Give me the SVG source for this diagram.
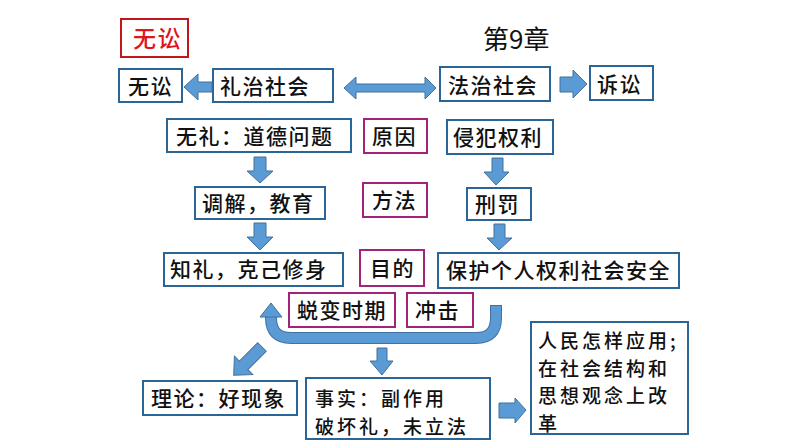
<svg xmlns="http://www.w3.org/2000/svg" width="794" height="447" viewBox="0 0 794 447">
<style>
.b{fill:#fff;stroke:#2B6596;stroke-width:2}
.m{fill:#fff;stroke:#A3237A;stroke-width:2}
.r{fill:#fff;stroke:#C0171C;stroke-width:2}
text{font-family:"Noto Sans CJK SC","Noto Sans",sans-serif;font-size:21px;font-weight:500;letter-spacing:1.5px;fill:#111}
.ml{font-size:19px;letter-spacing:3px}
.a{fill:#5B9BD5;stroke:#41719C;stroke-width:1}
</style>
<rect width="794" height="447" fill="#fff"/>
<g id="title-red"><rect class="r" x="121" y="19" width="67" height="38"/><text x="133" y="47" style="fill:#E0141B;font-size:23px">无讼</text></g>
<g id="chapter"><text x="483" y="49" style="font-size:26px;font-weight:400;letter-spacing:0">第9章</text></g>
<g id="wusong"><rect class="b" x="119" y="69" width="63" height="33"/><text x="128" y="94">无讼</text></g>
<g id="lizhi"><rect class="b" x="213" y="69" width="120" height="33"/><text x="220" y="94">礼治社会</text></g>
<g id="fazhi"><rect class="b" x="440" y="67" width="110" height="34"/><text x="448" y="93">法治社会</text></g>
<g id="susong"><rect class="b" x="590" y="66" width="63" height="34"/><text x="597" y="92">诉讼</text></g>
<g id="wuli"><rect class="b" x="167" y="119" width="184" height="33"/><text x="176" y="144">无礼：道德问题</text></g>
<g id="yuanyin"><rect class="m" x="364" y="119" width="63" height="34"/><text x="372" y="144">原因</text></g>
<g id="qinfan"><rect class="b" x="447" y="120" width="106" height="34"/><text x="453" y="145">侵犯权利</text></g>
<g id="tiaojie"><rect class="b" x="195" y="187" width="130" height="32"/><text x="202" y="211">调解，教育</text></g>
<g id="fangfa"><rect class="m" x="363" y="183" width="64" height="34"/><text x="372" y="208">方法</text></g>
<g id="xingfa"><rect class="b" x="467" y="188" width="64" height="32"/><text x="475" y="212">刑罚</text></g>
<g id="zhili"><rect class="b" x="164" y="253" width="179" height="33"/><text x="170" y="277">知礼，克己修身</text></g>
<g id="mudi"><rect class="m" x="360" y="250" width="64" height="36"/><text x="370" y="276">目的</text></g>
<g id="baohu"><rect class="b" x="438" y="253" width="241" height="35"/><text x="446" y="278">保护个人权利社会安全</text></g>
<g id="tuibian"><rect class="m" x="289" y="293" width="106" height="34"/><text x="297" y="318">蜕变时期</text></g>
<g id="chongji"><rect class="m" x="407" y="293" width="66" height="34"/><text x="415" y="318">冲击</text></g>
<g id="lilun"><rect class="b" x="143" y="381" width="154" height="34"/><text x="151" y="406">理论：好现象</text></g>
<g id="shishi"><rect class="b" x="306" y="378" width="184" height="61"/><text class="ml" x="315" y="406">事实：副作用</text><text class="ml" x="315" y="434">破坏礼，未立法</text></g>
<g id="renmin"><rect class="b" x="531" y="322" width="157" height="112"/><text class="ml" x="538" y="348">人民怎样应用;</text><text class="ml" x="538" y="375.5">在社会结构和</text><text class="ml" x="538" y="403">思想观念上改</text><text class="ml" x="538" y="430.5">革</text></g>
<g id="connectors">
<polygon class="a" points="184,87 198,74 198,82 212,82 212,92 198,92 198,100"/>
<polygon class="a" points="344,88 356,77 356,84 425,84 425,77 436,88 425,99 425,92 356,92 356,99"/>
<polygon class="a" points="587,84 573,70 573,77 560,77 560,92 573,92 573,98"/>
<polygon class="a" points="254,157 266,157 266,171 273,171 260,183 247,171 254,171"/>
<polygon class="a" points="254,223 266,223 266,237 273,237 260,250 247,237 254,237"/>
<polygon class="a" points="492,158 503,158 503,172 509,172 496,185 484,172 492,172"/>
<polygon class="a" points="494,224 505,224 505,238 512,238 499,250 487,238 494,238"/>
<path d="M496 305 V318 Q496 338 476 338 H291 Q271 338 271 318 V316" fill="none" stroke="#41719C" stroke-width="12"/>
<path d="M496 306 V318 Q496 338 476 338 H291 Q271 338 271 318 V315" fill="none" stroke="#5B9BD5" stroke-width="10"/>
<polygon class="a" points="271,303 282,317 260,317"/>
<polygon class="a" points="377,348 387,348 387,361 393,361 382,375 370,361 377,361"/>
<polygon class="a" points="-6,0 6,0 6,26 13,26 0,40 -13,26 -6,26" transform="translate(262,347) rotate(45)"/>
<polygon class="a" points="499,403 515,403 515,398 526,410 515,423 515,418 499,418"/>
</g>
</svg>
